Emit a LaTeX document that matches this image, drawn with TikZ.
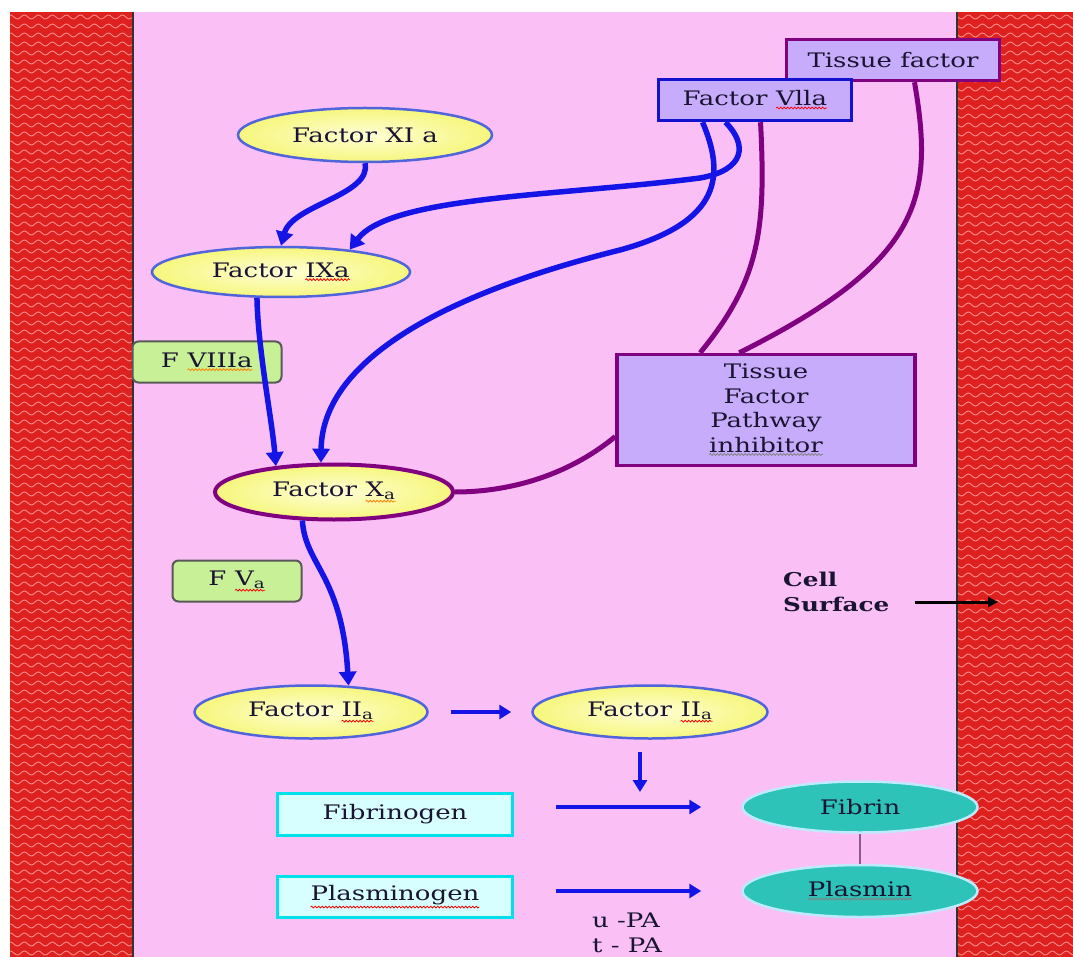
\documentclass[tikz,border=0pt]{standalone}
\usepackage{fontspec}
\setmainfont{DejaVu Serif}[FakeStretch=1.3]
\usetikzlibrary{shapes.geometric,arrows.meta,decorations.pathmorphing}
\definecolor{bgpink}{RGB}{250,192,246}
\definecolor{bandred}{RGB}{222,32,30}
\definecolor{waveln}{RGB}{255,140,140}
\definecolor{ablue}{RGB}{20,20,230}
\definecolor{apurple}{RGB}{128,0,128}
\definecolor{ellb}{RGB}{80,100,220}
\definecolor{lav}{RGB}{200,172,252}
\definecolor{lgreen}{RGB}{200,240,150}
\definecolor{lcyan}{RGB}{215,255,255}
\definecolor{cyanb}{RGB}{0,225,235}
\definecolor{teal1}{RGB}{45,195,185}
\definecolor{txt}{RGB}{25,20,50}
\definecolor{yin}{RGB}{255,255,215}
\definecolor{yout}{RGB}{246,246,125}
\newcommand\squig[2][red]{\tikz[baseline=(w.base)]{\node[rectangle,draw=none,fill=none,minimum size=0pt,inner sep=0pt,outer sep=0pt,text width={}](w){#2};\draw[#1,sharp corners,line width=0.8pt,decorate,decoration={snake,amplitude=0.9pt,segment length=3.5pt}]([yshift=-1.8pt]w.south west)--([yshift=-1.8pt]w.south east);}}
\tikzset{
  yell/.style={ellipse,draw=ellb,line width=2.5pt,inner color=yin,outer color=yout,inner sep=0pt},
  lavbox/.style={rectangle,fill=lav,line width=3.5pt,inner sep=0pt},
  greenbox/.style={rectangle,rounded corners=6pt,fill=lgreen,draw=gray!70!black,line width=2pt,inner sep=0pt},
  cyanbox/.style={rectangle,fill=lcyan,draw=cyanb,line width=3pt,inner sep=0pt},
  tealell/.style={ellipse,fill=teal1,draw=white!75!cyan,line width=2.5pt,inner sep=0pt},
  barrow/.style={draw=ablue,line width=5.5pt,-{Triangle[length=14pt,width=17pt]}},
  sarrow/.style={draw=ablue,line width=4pt,-{Triangle[length=12pt,width=14pt]}},
  pline/.style={draw=apurple,line width=5pt},
  wavy/.style={waveln,line width=0.9pt,decorate,decoration={snake,amplitude=2pt,segment length=14pt}}
}
\begin{document}
\begin{tikzpicture}[x=1pt,y=-1pt,font=\fontsize{20}{24.5}\selectfont,text=txt]
\useasboundingbox (0,0) rectangle (1073,957);
\fill[white] (0,0) rectangle (1073,957);
\fill[bgpink] (133,12) rectangle (957,957);
\fill[bandred] (10,12) rectangle (133,957);
\fill[bandred] (957,12) rectangle (1073,957);
\begin{scope}
\clip (10,12) rectangle (133,957);
\foreach \yy in {17,26,...,953} {\draw[wavy] (6,\yy) -- (140,\yy);}
\end{scope}
\begin{scope}
\clip (957,12) rectangle (1073,957);
\foreach \yy in {17,26,...,953} {\draw[wavy] (950,\yy) -- (1080,\yy);}
\end{scope}
\draw[black!80,line width=1.5pt] (133,12) -- (133,957);
\draw[black!80,line width=1.5pt] (957,12) -- (957,957);

% nodes
\node[yell,minimum width=254pt,minimum height=54pt] (xia) at (365,135) {Factor XI a};
\node[yell,minimum width=258pt,minimum height=50pt] (ixa) at (281,272) {Factor \squig{IXa}};
\node[greenbox,minimum width=149pt,minimum height=41pt] (f8) at (207,362) {F \squig[orange]{VIIIa}};
\node[yell,draw=apurple,line width=4pt,minimum width=238pt,minimum height=55pt] (xa) at (334,492) {Factor \squig[orange]{X\textsubscript{a}}};
\node[greenbox,minimum width=129pt,minimum height=41pt] (f5) at (237,581) {F \squig{V\textsubscript{a}}};
\node[yell,minimum width=233pt,minimum height=53pt] (iia) at (311,712) {Factor \squig{II\textsubscript{a}}};
\node[yell,minimum width=235pt,minimum height=53pt] (iib) at (650,712) {Factor \squig{II\textsubscript{a}}};
\node[cyanbox,minimum width=235pt,minimum height=42pt] (fgen) at (395,814) {Fibrinogen};
\node[cyanbox,minimum width=235pt,minimum height=41pt] (pgen) at (395,897) {\squig{Plasminogen}};
\node[tealell,minimum width=235pt,minimum height=51pt] (fibrin) at (860,807) {Fibrin};
\node[tealell,minimum width=235pt,minimum height=52pt] (plasmin) at (860,891) {\squig[gray]{Plasmin}};
\node[lavbox,draw=apurple,minimum width=213pt,minimum height=41pt] (tf) at (893,60) {Tissue factor};
\node[lavbox,draw=ablue!90!black,minimum width=193pt,minimum height=41pt] (viia) at (755,100) {Factor \squig{Vlla}};
\node[lavbox,draw=apurple,minimum width=298pt,minimum height=111pt,align=center] (tfpi) at (766,410) {Tissue\\Factor\\Pathway\\\squig[gray]{inhibitor}};
\node[font=\bfseries\fontsize{19}{25}\selectfont,align=left,anchor=west,inner sep=0pt] (cs) at (783,592) {Cell\\Surface};
\node[align=left,anchor=north west,inner sep=0pt] (upa) at (592,913) {u -PA\\t - PA};
\coordinate (csend) at (998,602);
\coordinate (d1) at (640,752);
\coordinate (d2) at (640,792);

% blue connectors
\draw[barrow] (xia.south) .. controls (372,195) and (292,205) .. (ixa.north);
\draw[barrow] (viia.217) .. controls (748,145) and (745,170) .. (700,178) .. controls (560,196) and (390,196) .. (ixa.18);
\draw[barrow] (viia.203) .. controls (725,175) and (722,222) .. (620,250) .. controls (420,300) and (322,370) .. (xa.114);
\draw[barrow] (ixa.227) .. controls (258,350) and (272,420) .. (xa.156);
\draw[barrow] (xa.222) .. controls (305,565) and (342,575) .. (iia.35);
\draw[sarrow,shorten <=22pt,shorten >=20pt] (iia.east) -- (iib.west);
\draw[sarrow] (d1) -- (d2);
\draw[sarrow,shorten <=42pt,shorten >=40pt] (fgen.east |- fibrin.west) -- (fibrin.west);
\draw[sarrow,shorten <=42pt,shorten >=40pt] (pgen.east |- plasmin.west) -- (plasmin.west);

% purple connectors
\draw[pline] (viia.-76) .. controls (766,230) and (760,280) .. (tfpi.139);
\draw[pline] (tf.-46) .. controls (935,200) and (920,262) .. (tfpi.115);
\draw[pline] (tfpi.190) .. controls (565,478) and (505,492) .. (xa.east);
\draw[draw={rgb,255:red,140;green,90;blue,140},line width=2.5pt] (fibrin.south) -- (plasmin.north);
\draw[black,line width=3pt,-{Triangle[length=10pt,width=10pt]},shorten <=25pt] (cs.east |- csend) -- (csend);
\end{tikzpicture}
\end{document}
